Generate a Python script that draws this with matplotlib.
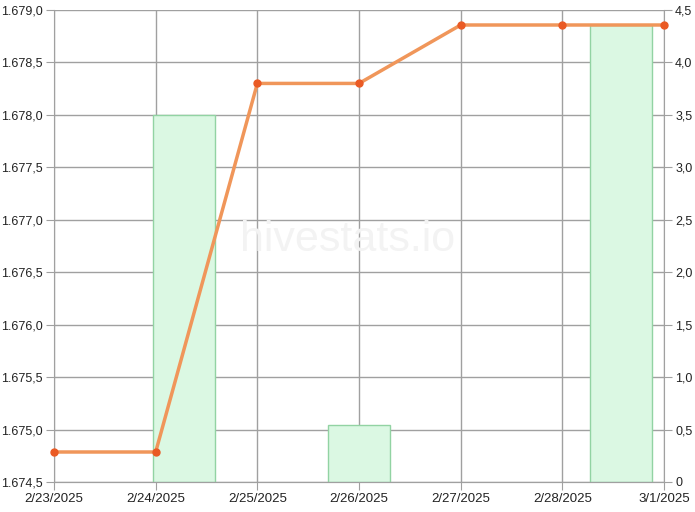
import numpy as np
import matplotlib.pyplot as plt
from matplotlib.ticker import FuncFormatter

dates = ["2/23/2025", "2/24/2025", "2/25/2025", "2/26/2025", "2/27/2025", "2/28/2025", "3/1/2025"]
price = [1674.786, 1674.786, 1678.30, 1678.30, 1678.857, 1678.857, 1678.857]
bar_pos = [1.28, 3.0, 5.58]
bar_vals = [3.5, 0.54, 4.36]
bar_width = 0.61

plt.rcParams['font.family'] = ['Liberation Sans', 'DejaVu Sans']

def fmt_left(v, pos):
    s = "{:,.1f}".format(v)
    return s.replace(",", "X").replace(".", ",").replace("X", ".")

def fmt_right(v, pos):
    if abs(v) < 1e-9:
        return "0"
    return "{:.1f}".format(v).replace(".", ",")

fig = plt.figure(figsize=(6.95, 5.12), dpi=100)
ax = fig.add_axes([54/695, 1-482/512, (664-54)/695, (482-10)/512])
ax2 = ax.twinx()

x = np.arange(len(dates))
ax2.bar(bar_pos, bar_vals, width=bar_width, color="#dbf8e3", edgecolor="#92d3a3", linewidth=1, zorder=1)
ax2.set_ylim(0, 4.5)
ax2.set_yticks(np.arange(0, 4.51, 0.5))
ax2.yaxis.set_major_formatter(FuncFormatter(fmt_right))

ax.set_zorder(ax2.get_zorder() + 1)
ax.patch.set_visible(False)
ax.plot(x, price, color="#f0965a", linewidth=2.5, zorder=3, clip_on=False)
ax.plot(x, price, "o", color="#ea5a24", markersize=5, zorder=4, clip_on=False)
ax.set_ylim(1674.5, 1679.0)
ax.set_yticks(np.arange(1674.5, 1679.01, 0.5))
ax.yaxis.set_major_formatter(FuncFormatter(fmt_left))
ax.set_xlim(0, len(dates) - 1)
ax.set_xticks(x)
ax.set_xticklabels(dates)

# grid on the bar axis so it sits behind bars
ax2.set_xlim(0, len(dates) - 1)
for xv in x:
    ax2.axvline(xv, color="#a0a0a0", linewidth=1, zorder=0)
for yv in np.arange(0, 4.51, 0.5):
    ax2.axhline(yv, color="#a0a0a0", linewidth=1, zorder=0)

for a in (ax, ax2):
    a.spines["top"].set_visible(False)
    for side in ("left", "right", "bottom"):
        a.spines[side].set_color("#a0a0a0")
    a.tick_params(colors="#a0a0a0", labelcolor="#222222", labelsize=9, length=6, pad=2)
ax.tick_params(axis="x", labelsize=9.5)
ax.spines["right"].set_visible(False)
ax2.spines["left"].set_visible(False)

fig.text(0.5, 1-240/512, "hivestats.io", fontsize=31, color="#f3f3f3", ha="center", va="center", zorder=0)

fig.savefig("out.png", dpi=100)
